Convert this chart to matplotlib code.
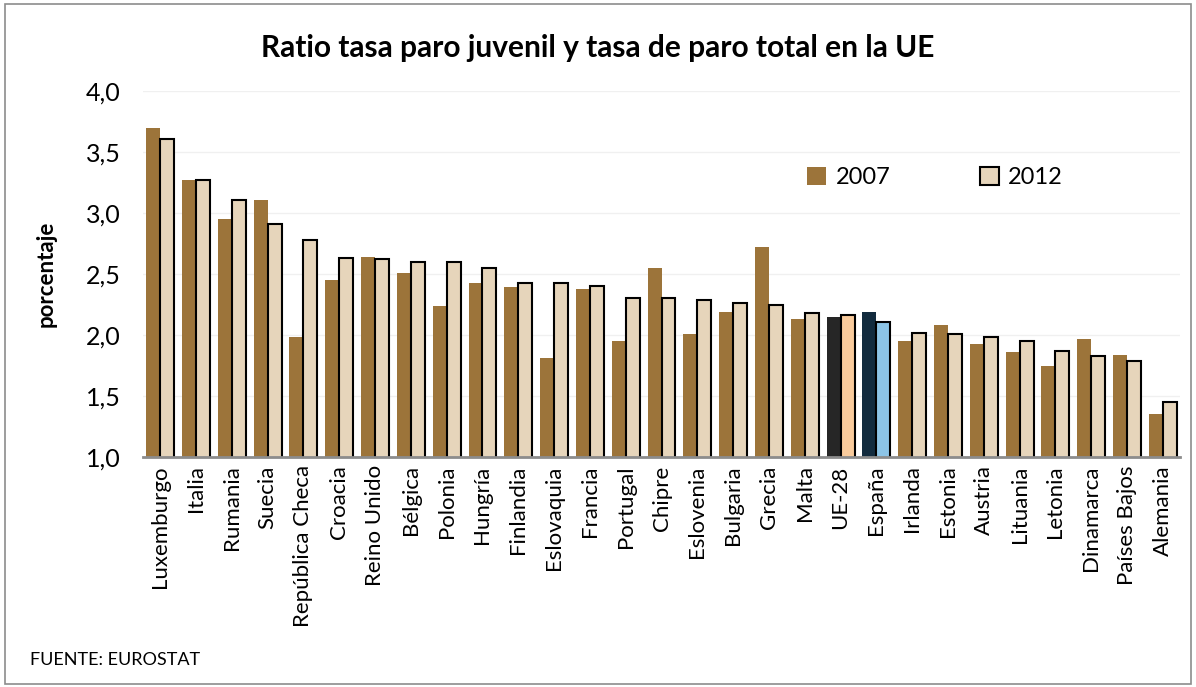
import matplotlib.pyplot as plt
import numpy as np
from matplotlib.patches import Rectangle

plt.rcParams['font.family'] = ['Lato', 'DejaVu Sans']

paises = ["Luxemburgo", "Italia", "Rumania", "Suecia", "República Checa", "Croacia",
          "Reino Unido", "Bélgica", "Polonia", "Hungría", "Finlandia", "Eslovaquia",
          "Francia", "Portugal", "Chipre", "Eslovenia", "Bulgaria", "Grecia", "Malta",
          "UE-28", "España", "Irlanda", "Estonia", "Austria", "Lituania", "Letonia",
          "Dinamarca", "Países Bajos", "Alemania"]
v2007 = [3.70, 3.27, 2.95, 3.11, 1.98, 2.45, 2.64, 2.51, 2.24, 2.43, 2.39, 1.81,
         2.38, 1.95, 2.55, 2.01, 2.19, 2.72, 2.13, 2.15, 2.19, 1.95, 2.08, 1.93,
         1.86, 1.75, 1.97, 1.84, 1.35]
v2012 = [3.61, 3.27, 3.11, 2.91, 2.78, 2.63, 2.62, 2.60, 2.60, 2.55, 2.43, 2.43,
         2.40, 2.30, 2.30, 2.29, 2.26, 2.25, 2.18, 2.16, 2.11, 2.02, 2.01, 1.98,
         1.95, 1.87, 1.83, 1.79, 1.45]

c2007 = "#9C743A"
c2012 = "#E6D5BB"
col07 = [c2007] * len(paises)
col12 = [c2012] * len(paises)
edge12 = ["black"] * len(paises)
# UE-28 and España highlighted
i = paises.index("UE-28")
col07[i], col12[i] = "#262626", "#F9CB9C"
i = paises.index("España")
col07[i], col12[i] = "#122B3E", "#8CC4E6"

fig = plt.figure(figsize=(11.96, 6.87), dpi=100)
ax = fig.add_axes([0.1196, 0.3348, 0.8670, 0.5327])

x = np.arange(len(paises))
w = 0.39
ax.bar(x - w / 2, v2007, w, color=col07, label="2007", zorder=2)
ax.bar(x + w / 2, v2012, w, color=col12, edgecolor=edge12, linewidth=1.5,
       label="2012", zorder=2)

ax.set_ylim(1.0, 4.0)
ax.set_xlim(-0.48, len(paises) - 0.52)
ax.set_yticks([1.0, 1.5, 2.0, 2.5, 3.0, 3.5, 4.0])
ax.set_yticklabels(["1,0", "1,5", "2,0", "2,5", "3,0", "3,5", "4,0"], fontsize=18)
ax.set_xticks(x)
ax.set_xticklabels(paises, rotation=90, fontsize=16)
ax.tick_params(axis="x", length=0, pad=6)
ax.tick_params(axis="y", length=0, pad=16)
ax.grid(axis="y", color="#F0F0F0", linewidth=1, zorder=0)
for s in ["top", "right", "left"]:
    ax.spines[s].set_visible(False)
ax.spines["bottom"].set_color("#8C8C8C")
ax.spines["bottom"].set_linewidth(2)

ax.set_ylabel("porcentaje", fontsize=16, fontweight="bold")
ax.yaxis.set_label_coords(-0.083, 0.5)

ax.legend(loc="upper left", bbox_to_anchor=(0.62, 0.85), ncol=2, frameon=False,
          fontsize=17, columnspacing=3.8, handlelength=0.8, handleheight=0.8,
          handletextpad=0.4)

fig.text(0.5, 0.93, "Ratio tasa paro juvenil y tasa de paro total en la UE",
         ha="center", va="center", fontsize=21.5, fontweight="bold")
fig.text(0.025, 0.04, "FUENTE: EUROSTAT", fontsize=13, va="center")

fig.patches.append(Rectangle((0.004, 0.004), 0.992, 0.99, transform=fig.transFigure,
                             fill=False, edgecolor="#8C8C8C", linewidth=1.2))

fig.savefig("out.png", dpi=100)
